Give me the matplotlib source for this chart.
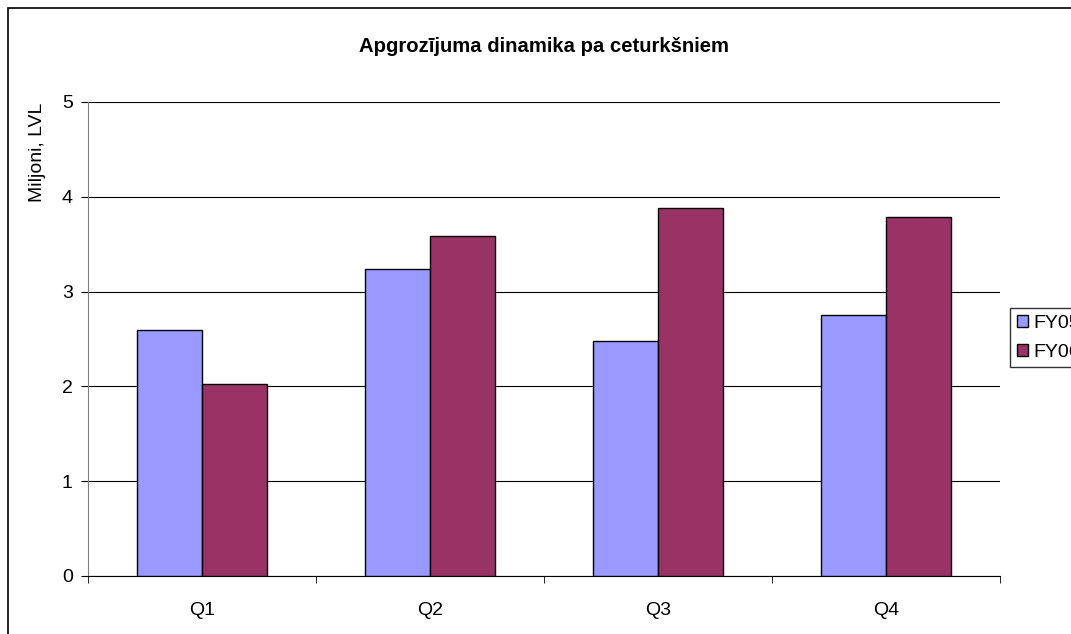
import matplotlib.pyplot as plt
import numpy as np
from matplotlib.patches import Rectangle

plt.rcParams['font.family'] = ['Liberation Sans', 'DejaVu Sans']

quarters = ["Q1", "Q2", "Q3", "Q4"]
series = ["FY05", "FY06"]
fy05 = [2.6, 3.24, 2.48, 2.75]
fy06 = [2.03, 3.59, 3.88, 3.79]
colors = ["#9999FF", "#993366"]

fig = plt.figure(figsize=(10.71, 6.34), dpi=100)
ax = fig.add_axes([88 / 1071, 58 / 634, 912 / 1071, 474 / 634])

x = np.arange(len(quarters))
w = 0.285
ax.bar(x - w / 2, fy05, w, color=colors[0], edgecolor="black", linewidth=1, label=series[0], zorder=3)
ax.bar(x + w / 2, fy06, w, color=colors[1], edgecolor="black", linewidth=1, label=series[1], zorder=3)

ax.set_xlim(-0.5, 3.5)
ax.set_ylim(0, 5)
ax.set_yticks(range(6))
ax.yaxis.grid(True, color="black", linewidth=0.8, zorder=0)
ax.set_xticks(x)
ax.set_xticklabels(quarters)
ax.set_xticks(np.arange(-0.5, 4, 1), minor=True)
ax.tick_params(axis="x", which="major", length=0, pad=19, labelsize=14)
ax.tick_params(axis="x", which="minor", length=5, direction="out", color="black")
ax.tick_params(axis="y", length=5, direction="out", labelsize=14, pad=6)
for s in ["top", "right"]:
    ax.spines[s].set_visible(False)
ax.spines["left"].set_color("#808080")
ax.spines["bottom"].set_color("black")

fig.text(544 / 1071, 1 - 46 / 634, "Apgrozījuma dinamika pa ceturkšniem",
         ha="center", va="center", fontsize=14.6, fontweight="bold")
fig.text(38 / 1071, 1 - 103 / 634, "Miljoni, LVL", rotation=90,
         ha="center", va="top", fontsize=14)

fig.legend(loc="upper left", bbox_to_anchor=(1010 / 1071, 1 - 308 / 634),
           frameon=True, fancybox=False, edgecolor="black", fontsize=14,
           handlelength=0.6, handleheight=0.6, handletextpad=0.25,
           borderpad=0.35, labelspacing=0.6, borderaxespad=0)

fig.patches.append(Rectangle((8 / 1071, -0.1), 1.2, 1 - 8 / 634 + 0.1,
                             transform=fig.transFigure, fill=False,
                             edgecolor="black", linewidth=1.2))

fig.savefig("out.png", dpi=100)
